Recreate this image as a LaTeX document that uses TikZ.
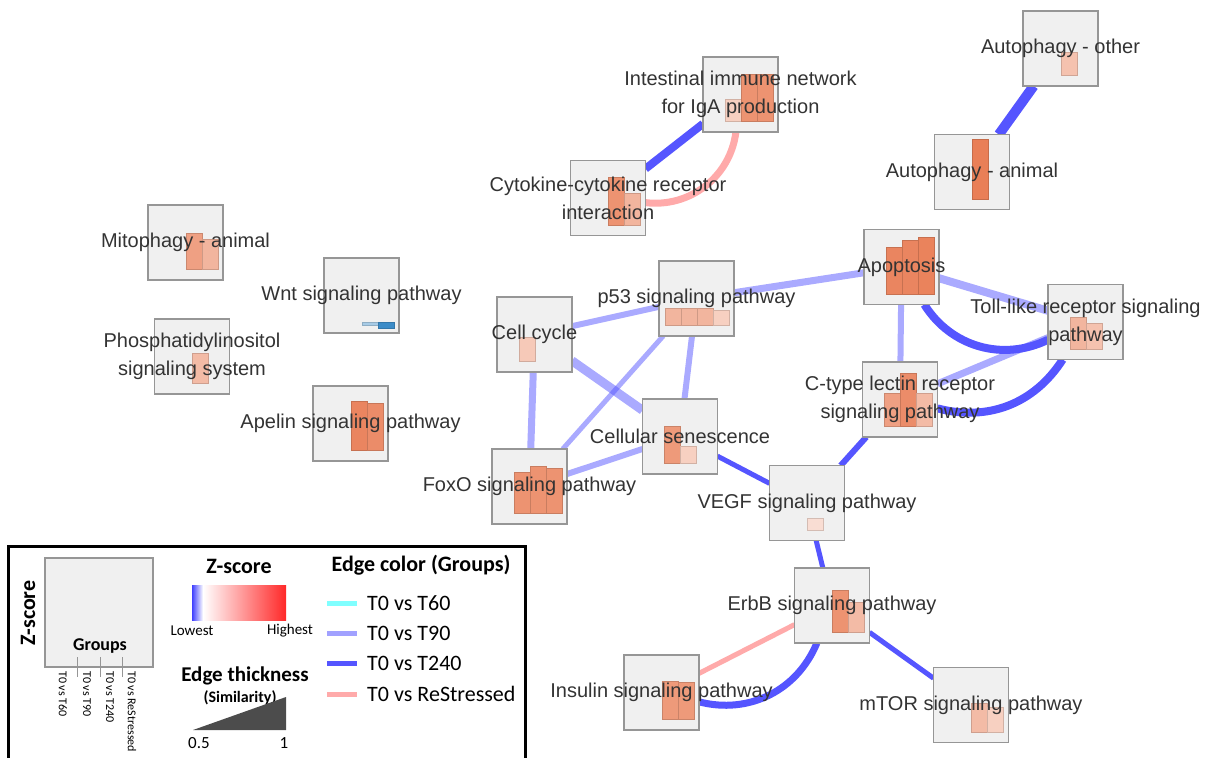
\documentclass[tikz,border=0pt]{standalone}
\usepackage{fontspec}
\setmainfont{Liberation Sans}
\newfontfamily\legfont{Carlito}
\usetikzlibrary{calc,backgrounds}
\definecolor{boxfill}{RGB}{240,240,240}
\definecolor{boxline}{RGB}{150,150,150}
\definecolor{zhi}{RGB}{232,120,78}
\definecolor{zlo}{RGB}{60,140,200}
\definecolor{zred}{RGB}{255,40,40}
\definecolor{grpA}{RGB}{128,255,255}
\definecolor{grpB}{RGB}{85,85,255}
\definecolor{grpD}{RGB}{255,85,85}

\tikzset{
  pbox/.style={draw=boxline, fill=boxfill, line width=1.3pt, minimum size=75pt, inner sep=0pt, outer sep=0pt},
  plabel/.style={text=black!80, align=center, inner sep=0pt, font=\fontsize{20}{28}\selectfont},
  tninety/.style={draw=grpB, draw opacity=0.5},
  tforty/.style={draw=grpB},
  trestr/.style={draw=grpD, draw opacity=0.5},
  legbig/.style={font=\legfont\bfseries\fontsize{22}{26}\selectfont, inner sep=0pt},
  legtxt/.style={font=\legfont\fontsize{22}{26}\selectfont, inner sep=0pt, anchor=west},
}

% bar of one group inside a pathway box: node, slot, height, colour
\newcommand{\zbar}[4]{%
  \filldraw[fill=#4, draw=#4!85!black, line width=0.6pt]
    ($(#1.south west)+({6+16*(#2-1)},-10.5)$) rectangle ++(16,{-(#3)});}

\begin{document}
\begin{tikzpicture}[x=1pt,y=-1pt]
  \clip (0,0) rectangle (1211,758);

  % pathway boxes
  \node[pbox] (autoo) at (1060.5,48.5) {};
  \node[pbox] (autoa) at (972,172) {};
  \node[pbox] (intest) at (740.5,94.5) {};
  \node[pbox] (cyto) at (608,198) {};
  \node[pbox] (mito) at (185.5,242.5) {};
  \node[pbox] (wnt) at (361.5,295.5) {};
  \node[pbox] (phos) at (192,356.5) {};
  \node[pbox] (apelin) at (350.5,423.5) {};
  \node[pbox] (cellcyc) at (534.5,334.5) {};
  \node[pbox] (p53) at (696.5,298.5) {};
  \node[pbox] (senes) at (680,436.5) {};
  \node[pbox] (foxo) at (529.5,486.5) {};
  \node[pbox] (apop) at (901.5,267) {};
  \node[pbox] (toll) at (1085.5,322) {};
  \node[pbox] (ctype) at (900,399.5) {};
  \node[pbox] (vegf) at (807,503) {};
  \node[pbox] (erbb) at (832,605.5) {};
  \node[pbox] (insulin) at (661.5,692.5) {};
  \node[pbox] (mtor) at (971,705) {};

  % edges
  \begin{pgfonlayer}{background}
    \draw[tforty, line width=10pt] (autoo) -- (autoa);
    \draw[tforty, line width=8pt] (cyto) -- (intest);
    \draw[trestr, line width=7pt] (cyto) to[bend right=45] (intest);
    \draw[tninety, line width=6pt] (cellcyc) -- (p53);
    \draw[tninety, line width=9pt] (cellcyc) -- (senes);
    \draw[tninety, line width=7pt] (cellcyc) -- (foxo);
    \draw[tninety, line width=5pt] (p53) -- (foxo);
    \draw[tninety, line width=6pt] (p53) -- (senes);
    \draw[tninety, line width=6pt] (foxo) -- (senes);
    \draw[tninety, line width=7pt] (p53) -- (apop);
    \draw[tninety, line width=8pt] (apop) -- (toll);
    \draw[tninety, line width=6pt] (apop) -- (ctype);
    \draw[tforty, line width=8pt] (apop) to[bend right=42] (toll);
    \draw[tninety, line width=7pt] (ctype) -- (toll);
    \draw[tforty, line width=8pt] (ctype) to[bend right=36] (toll);
    \draw[tforty, line width=6pt] (ctype) -- (vegf);
    \draw[tforty, line width=5pt] (senes) -- (vegf);
    \draw[tforty, line width=5pt] (vegf) -- (erbb);
    \draw[tforty, line width=5pt] (erbb) -- (mtor);
    \draw[trestr, line width=5pt] (erbb) -- (insulin);
    \draw[tforty, line width=7pt] (erbb) to[bend left=41] (insulin);
  \end{pgfonlayer}

  % z-score bars
  \zbar{autoo}{3}{23}{zhi!45!white}
  \zbar{autoa}{3}{60}{zhi!95!white}
  \zbar{intest}{2}{22}{zhi!35!white}
  \zbar{intest}{3}{47}{zhi!80!white}
  \zbar{intest}{4}{47}{zhi!80!white}
  \zbar{cyto}{3}{48}{zhi!80!white}
  \zbar{cyto}{4}{32}{zhi!55!white}
  \zbar{mito}{3}{36}{zhi!70!white}
  \zbar{mito}{4}{30}{zhi!55!white}
  \zbar{wnt}{3}{-3}{zlo!45!white}
  \zbar{wnt}{4}{-6}{zlo}
  \zbar{phos}{3}{30}{zhi!50!white}
  \zbar{apelin}{3}{49}{zhi!90!white}
  \zbar{apelin}{4}{47}{zhi!85!white}
  \zbar{cellcyc}{2}{24}{zhi!40!white}
  \zbar{p53}{1}{17}{zhi!55!white}
  \zbar{p53}{2}{17}{zhi!55!white}
  \zbar{p53}{3}{17}{zhi!55!white}
  \zbar{p53}{4}{15}{zhi!35!white}
  \zbar{senes}{2}{37}{zhi!75!white}
  \zbar{senes}{3}{17}{zhi!35!white}
  \zbar{foxo}{2}{41}{zhi!80!white}
  \zbar{foxo}{3}{47}{zhi!80!white}
  \zbar{foxo}{4}{45}{zhi!80!white}
  \zbar{apop}{2}{47}{zhi!90!white}
  \zbar{apop}{3}{54}{zhi!90!white}
  \zbar{apop}{4}{57}{zhi!92!white}
  \zbar{toll}{2}{32}{zhi!55!white}
  \zbar{toll}{3}{26}{zhi!45!white}
  \zbar{ctype}{2}{33}{zhi!70!white}
  \zbar{ctype}{3}{53}{zhi!85!white}
  \zbar{ctype}{4}{33}{zhi!50!white}
  \zbar{vegf}{3}{12}{zhi!25!white}
  \zbar{erbb}{3}{42}{zhi!80!white}
  \zbar{erbb}{4}{30}{zhi!50!white}
  \zbar{insulin}{3}{38}{zhi!75!white}
  \zbar{insulin}{4}{37}{zhi!75!white}
  \zbar{mtor}{3}{29}{zhi!50!white}
  \zbar{mtor}{4}{25}{zhi!35!white}

  % labels
  \node[plabel] (autoo-l) at (autoo) {Autophagy - other};
  \node[plabel] (autoa-l) at (autoa) {Autophagy - animal};
  \node[plabel] (intest-l) at (intest) {Intestinal immune network\\for IgA production};
  \node[plabel] (cyto-l) at (cyto) {Cytokine-cytokine receptor\\interaction};
  \node[plabel] (mito-l) at (mito) {Mitophagy - animal};
  \node[plabel] (wnt-l) at (wnt) {Wnt signaling pathway};
  \node[plabel] (phos-l) at (phos) {Phosphatidylinositol\\signaling system};
  \node[plabel] (apelin-l) at (apelin) {Apelin signaling pathway};
  \node[plabel] (cellcyc-l) at (cellcyc) {Cell cycle};
  \node[plabel] (p53-l) at (p53) {p53 signaling pathway};
  \node[plabel] (senes-l) at (senes) {Cellular senescence};
  \node[plabel] (foxo-l) at (foxo) {FoxO signaling pathway};
  \node[plabel] (apop-l) at (apop) {Apoptosis};
  \node[plabel] (toll-l) at (toll) {Toll-like receptor signaling\\pathway};
  \node[plabel] (ctype-l) at (ctype) {C-type lectin receptor\\signaling pathway};
  \node[plabel] (vegf-l) at (vegf) {VEGF signaling pathway};
  \node[plabel] (erbb-l) at (erbb) {ErbB signaling pathway};
  \node[plabel] (insulin-l) at (insulin) {Insulin signaling pathway};
  \node[plabel] (mtor-l) at (mtor) {mTOR signaling pathway};

  % legend
  \draw[line width=3pt] (8,546) rectangle (525,780);
  \node[pbox, minimum width=108pt, minimum height=109pt] (legbox) at (99,612.5) {};
  \node[legbig, rotate=90] (leg-z) at (28,613) {Z-score};
  \node[font=\legfont\bfseries\fontsize{18}{20}\selectfont, inner sep=0pt] (leg-g) at (100,646) {Groups};
  \foreach \x in {77,100,122}
    \draw[boxline, line width=1pt] (\x,657) -- (\x,677);
  \foreach \x/\t [count=\i] in {63/T0 vs T60, 87/T0 vs T90, 110/T0 vs T240, 132/T0 vs ReStressed}
    \node[rotate=-90, anchor=west, inner sep=0pt, font=\legfont\fontsize{12}{14}\selectfont] (leg-t\i) at (\x,671) {\t};

  \node[legbig] (leg-zt) at (239,566) {Z-score};
  \shade[left color=blue!75!white, right color=white] (192,585) rectangle (203,620);
  \shade[left color=white, right color=zred] (203,585) rectangle (286,620);
  \node[font=\legfont\fontsize{15}{17}\selectfont, inner sep=0pt] (leg-lo) at (192,631) {Lowest};
  \node[font=\legfont\fontsize{15}{17}\selectfont, inner sep=0pt] (leg-hi) at (290,631) {Highest};

  \node[font=\legfont\bfseries\fontsize{21}{24}\selectfont, inner sep=0pt] (leg-et) at (245,676) {Edge thickness};
  \node[font=\legfont\bfseries\fontsize{16}{18}\selectfont, inner sep=0pt] (leg-sim) at (240,698) {(Similarity)};
  \fill[black!70] (193,730) -- (286,730) -- (286,697) -- cycle;
  \node[font=\legfont\fontsize{17}{19}\selectfont, inner sep=0pt] (leg-05) at (199,743) {0.5};
  \node[font=\legfont\fontsize{17}{19}\selectfont, inner sep=0pt] (leg-1) at (284,743) {1};

  \node[legbig] (leg-ec) at (421,565) {Edge color (Groups)};
  \draw[grpA, line width=5pt] (327,603) -- (357,603);
  \draw[grpB!55!white, line width=5pt] (327,633) -- (357,633);
  \draw[grpB, line width=5pt] (327,663) -- (357,663);
  \draw[grpD!50!white, line width=5pt] (327,694) -- (357,694);
  \node[legtxt] (leg-e1) at (367,603) {T0 vs T60};
  \node[legtxt] (leg-e2) at (367,633) {T0 vs T90};
  \node[legtxt] (leg-e3) at (367,663) {T0 vs T240};
  \node[legtxt] (leg-e4) at (367,694) {T0 vs ReStressed};
\end{tikzpicture}
\end{document}
